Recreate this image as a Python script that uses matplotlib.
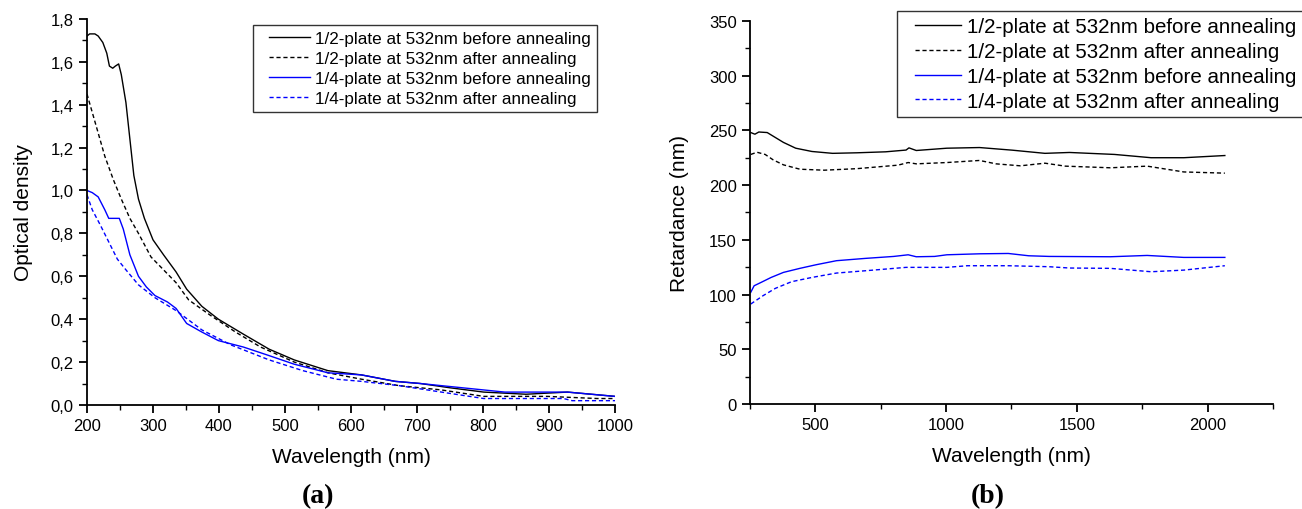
import matplotlib
matplotlib.use("Agg")
import matplotlib.pyplot as plt
from matplotlib.ticker import MultipleLocator, FuncFormatter
from matplotlib.legend_handler import HandlerLine2D
from matplotlib.lines import Line2D

# ---------------- data: panel (a) optical density ----------------
labels = ["1/2-plate at 532nm before annealing",
          "1/2-plate at 532nm after annealing",
          "1/4-plate at 532nm before annealing",
          "1/4-plate at 532nm after annealing"]

a_half_before_x = [200, 204, 212, 217, 224, 230, 234, 239, 243, 248, 252, 259, 265, 271, 278, 287, 300, 316,
                   335, 351, 374, 399, 437, 476, 514, 565, 616, 667, 705, 750, 801, 865, 928, 1000]
a_half_before_y = [1.72, 1.73, 1.73, 1.72, 1.69, 1.64, 1.58, 1.57, 1.58, 1.59, 1.54, 1.41, 1.24, 1.07, 0.96, 0.87,
                   0.77, 0.70, 0.62, 0.54, 0.46, 0.40, 0.33, 0.26, 0.21, 0.16, 0.14, 0.11, 0.10, 0.08, 0.06,
                   0.05, 0.06, 0.04]

a_half_after_x = [200, 214, 227, 240, 252, 265, 278, 297, 316, 335, 354, 386, 425, 463, 514, 565, 616, 673,
                  737, 801, 897, 973, 1000]
a_half_after_y = [1.45, 1.30, 1.16, 1.05, 0.96, 0.87, 0.80, 0.69, 0.63, 0.57, 0.49, 0.42, 0.34, 0.27, 0.20,
                  0.15, 0.12, 0.09, 0.07, 0.04, 0.04, 0.03, 0.03]

a_quarter_before_x = [200, 208, 217, 227, 233, 249, 255, 265, 278, 290, 303, 322, 335, 351, 374, 399, 437, 476,
                      514, 565, 616, 667, 705, 769, 833, 928, 1000]
a_quarter_before_y = [1.00, 0.99, 0.97, 0.91, 0.87, 0.87, 0.82, 0.70, 0.60, 0.55, 0.51, 0.48, 0.45, 0.38, 0.34,
                      0.30, 0.27, 0.23, 0.19, 0.15, 0.14, 0.11, 0.10, 0.08, 0.06, 0.06, 0.04]

a_quarter_after_x = [200, 208, 220, 233, 246, 259, 278, 303, 335, 374, 418, 476, 527, 578, 616, 673, 737, 801,
                     922, 935, 1000]
a_quarter_after_y = [0.98, 0.91, 0.84, 0.76, 0.68, 0.63, 0.56, 0.50, 0.44, 0.35, 0.28, 0.21, 0.16, 0.12, 0.11,
                     0.09, 0.06, 0.03, 0.03, 0.02, 0.02]

# ---------------- data: panel (b) retardance ----------------
b_half_before_x = [253, 269, 284, 316, 347, 378, 425, 487, 566, 659, 769, 847, 858, 886, 1003, 1128, 1253,
                   1378, 1472, 1644, 1784, 1909, 2066]
b_half_before_y = [248, 246.5, 248.5, 248, 243.5, 239, 233.7, 230.7, 229, 229.5, 230.4, 232, 234, 231.6, 233.7,
                   234.3, 231.9, 229, 229.8, 228, 225, 225, 227]

b_half_after_x = [253, 277, 308, 339, 378, 441, 534, 659, 816, 855, 886, 1003, 1128, 1191, 1284, 1378, 1456,
                  1628, 1769, 1909, 2066]
b_half_after_y = [228, 230, 228, 223, 218.5, 214.5, 213.6, 215, 218.2, 220.6, 219.4, 220.6, 222.5, 219.4, 217.6,
                  220, 217.3, 215.8, 217.3, 212, 210.9]

b_quarter_before_x = [253, 266, 292, 331, 378, 441, 503, 581, 691, 800, 855, 886, 956, 1003, 1128, 1238, 1316,
                      1394, 1628, 1769, 1909, 2066]
b_quarter_before_y = [102, 108, 111, 115.6, 120.2, 123.9, 127.2, 130.9, 133, 134.8, 136.3, 134.5, 134.8, 136.3,
                      137.2, 137.5, 135.4, 134.8, 134.5, 135.7, 133.9, 133.9]

b_quarter_after_x = [253, 300, 347, 409, 487, 581, 691, 847, 1003, 1081, 1238, 1394, 1472, 1628, 1784, 1909, 2066]
b_quarter_after_y = [91.3, 98.9, 105.6, 111.7, 115.6, 119.6, 121.7, 124.8, 124.8, 126.3, 126.3, 125.4, 124.2,
                     123.9, 120.8, 122.3, 126.3]

# ---------------- plotting ----------------
plt.rcParams['font.family'] = ['Liberation Sans', 'DejaVu Sans']

fig = plt.figure(figsize=(13.02, 5.10), dpi=100)
axA = fig.add_axes([0.0668, 0.204, 0.4056, 0.757])
axB = fig.add_axes([0.576, 0.206, 0.4017, 0.751])

styles = [dict(color='black', ls='-'),
          dict(color='black', ls=(0, (3, 2))),
          dict(color='#0000ff', ls='-'),
          dict(color='#0000ff', ls=(0, (3, 2)))]

a_data = [(a_half_before_x, a_half_before_y), (a_half_after_x, a_half_after_y),
          (a_quarter_before_x, a_quarter_before_y), (a_quarter_after_x, a_quarter_after_y)]
b_data = [(b_half_before_x, b_half_before_y), (b_half_after_x, b_half_after_y),
          (b_quarter_before_x, b_quarter_before_y), (b_quarter_after_x, b_quarter_after_y)]

for (x, y), st, lab in zip(a_data, styles, labels):
    axA.plot(x, y, lw=1.0, label=lab, **st)
for (x, y), st, lab in zip(b_data, styles, labels):
    axB.plot(x, y, lw=1.0, label=lab, **st)

for ax in (axA, axB):
    ax.spines['top'].set_visible(False)
    ax.spines['right'].set_visible(False)
    ax.spines['left'].set_linewidth(1.3)
    ax.spines['bottom'].set_linewidth(1.3)
    ax.tick_params(which='major', direction='out', length=6, width=1.3, labelsize=12)
    ax.tick_params(which='minor', direction='out', length=3.5, width=1.0)

axA.set_xlim(200, 1000)
axA.set_ylim(0, 1.8)
axA.xaxis.set_major_locator(MultipleLocator(100))
axA.xaxis.set_minor_locator(MultipleLocator(50))
axA.yaxis.set_major_locator(MultipleLocator(0.2))
axA.yaxis.set_minor_locator(MultipleLocator(0.1))
axA.yaxis.set_major_formatter(FuncFormatter(lambda v, p: f"{v:.1f}".replace('.', ',')))
axA.set_xlabel("Wavelength (nm)", fontsize=15, labelpad=10)
axA.set_ylabel("Optical density", fontsize=15, labelpad=13)

axB.set_xlim(250, 2250)
axB.set_ylim(0, 350)
axB.xaxis.set_major_locator(MultipleLocator(500))
axB.xaxis.set_minor_locator(MultipleLocator(250))
axB.yaxis.set_major_locator(MultipleLocator(50))
axB.yaxis.set_minor_locator(MultipleLocator(25))
axB.set_xlabel("Wavelength (nm)", fontsize=15, labelpad=10)
axB.set_ylabel("Retardance (nm)", fontsize=15, labelpad=14)

hA = {Line2D: HandlerLine2D(xpad=0.6)}
legA = axA.legend(loc='upper left', bbox_to_anchor=(0.1943, 0.949), bbox_transform=fig.transFigure,
                  fontsize=12.3, frameon=True, fancybox=False, framealpha=1, edgecolor='#333333',
                  handlelength=3.0, handletextpad=0.3, labelspacing=0.3, borderpad=0.35, borderaxespad=0,
                  handler_map=hA)
legA.get_frame().set_linewidth(1.0)

hB = {Line2D: HandlerLine2D(xpad=0.55)}
legB = axB.legend(loc='upper left', bbox_to_anchor=(0.689, 0.976), bbox_transform=fig.transFigure,
                  fontsize=14.8, frameon=True, fancybox=False, framealpha=1, edgecolor='#333333',
                  handlelength=2.8, handletextpad=0.3, labelspacing=0.28, borderpad=0.3, borderaxespad=0,
                  handler_map=hB)
legB.get_frame().set_linewidth(1.0)

fig.text(0.2445, 0.027, "(a)", fontsize=20, fontweight='bold', family='Liberation Serif', ha='center', va='center')
fig.text(0.759, 0.027, "(b)", fontsize=20, fontweight='bold', family='Liberation Serif', ha='center', va='center')

fig.savefig("out.png", dpi=100)
